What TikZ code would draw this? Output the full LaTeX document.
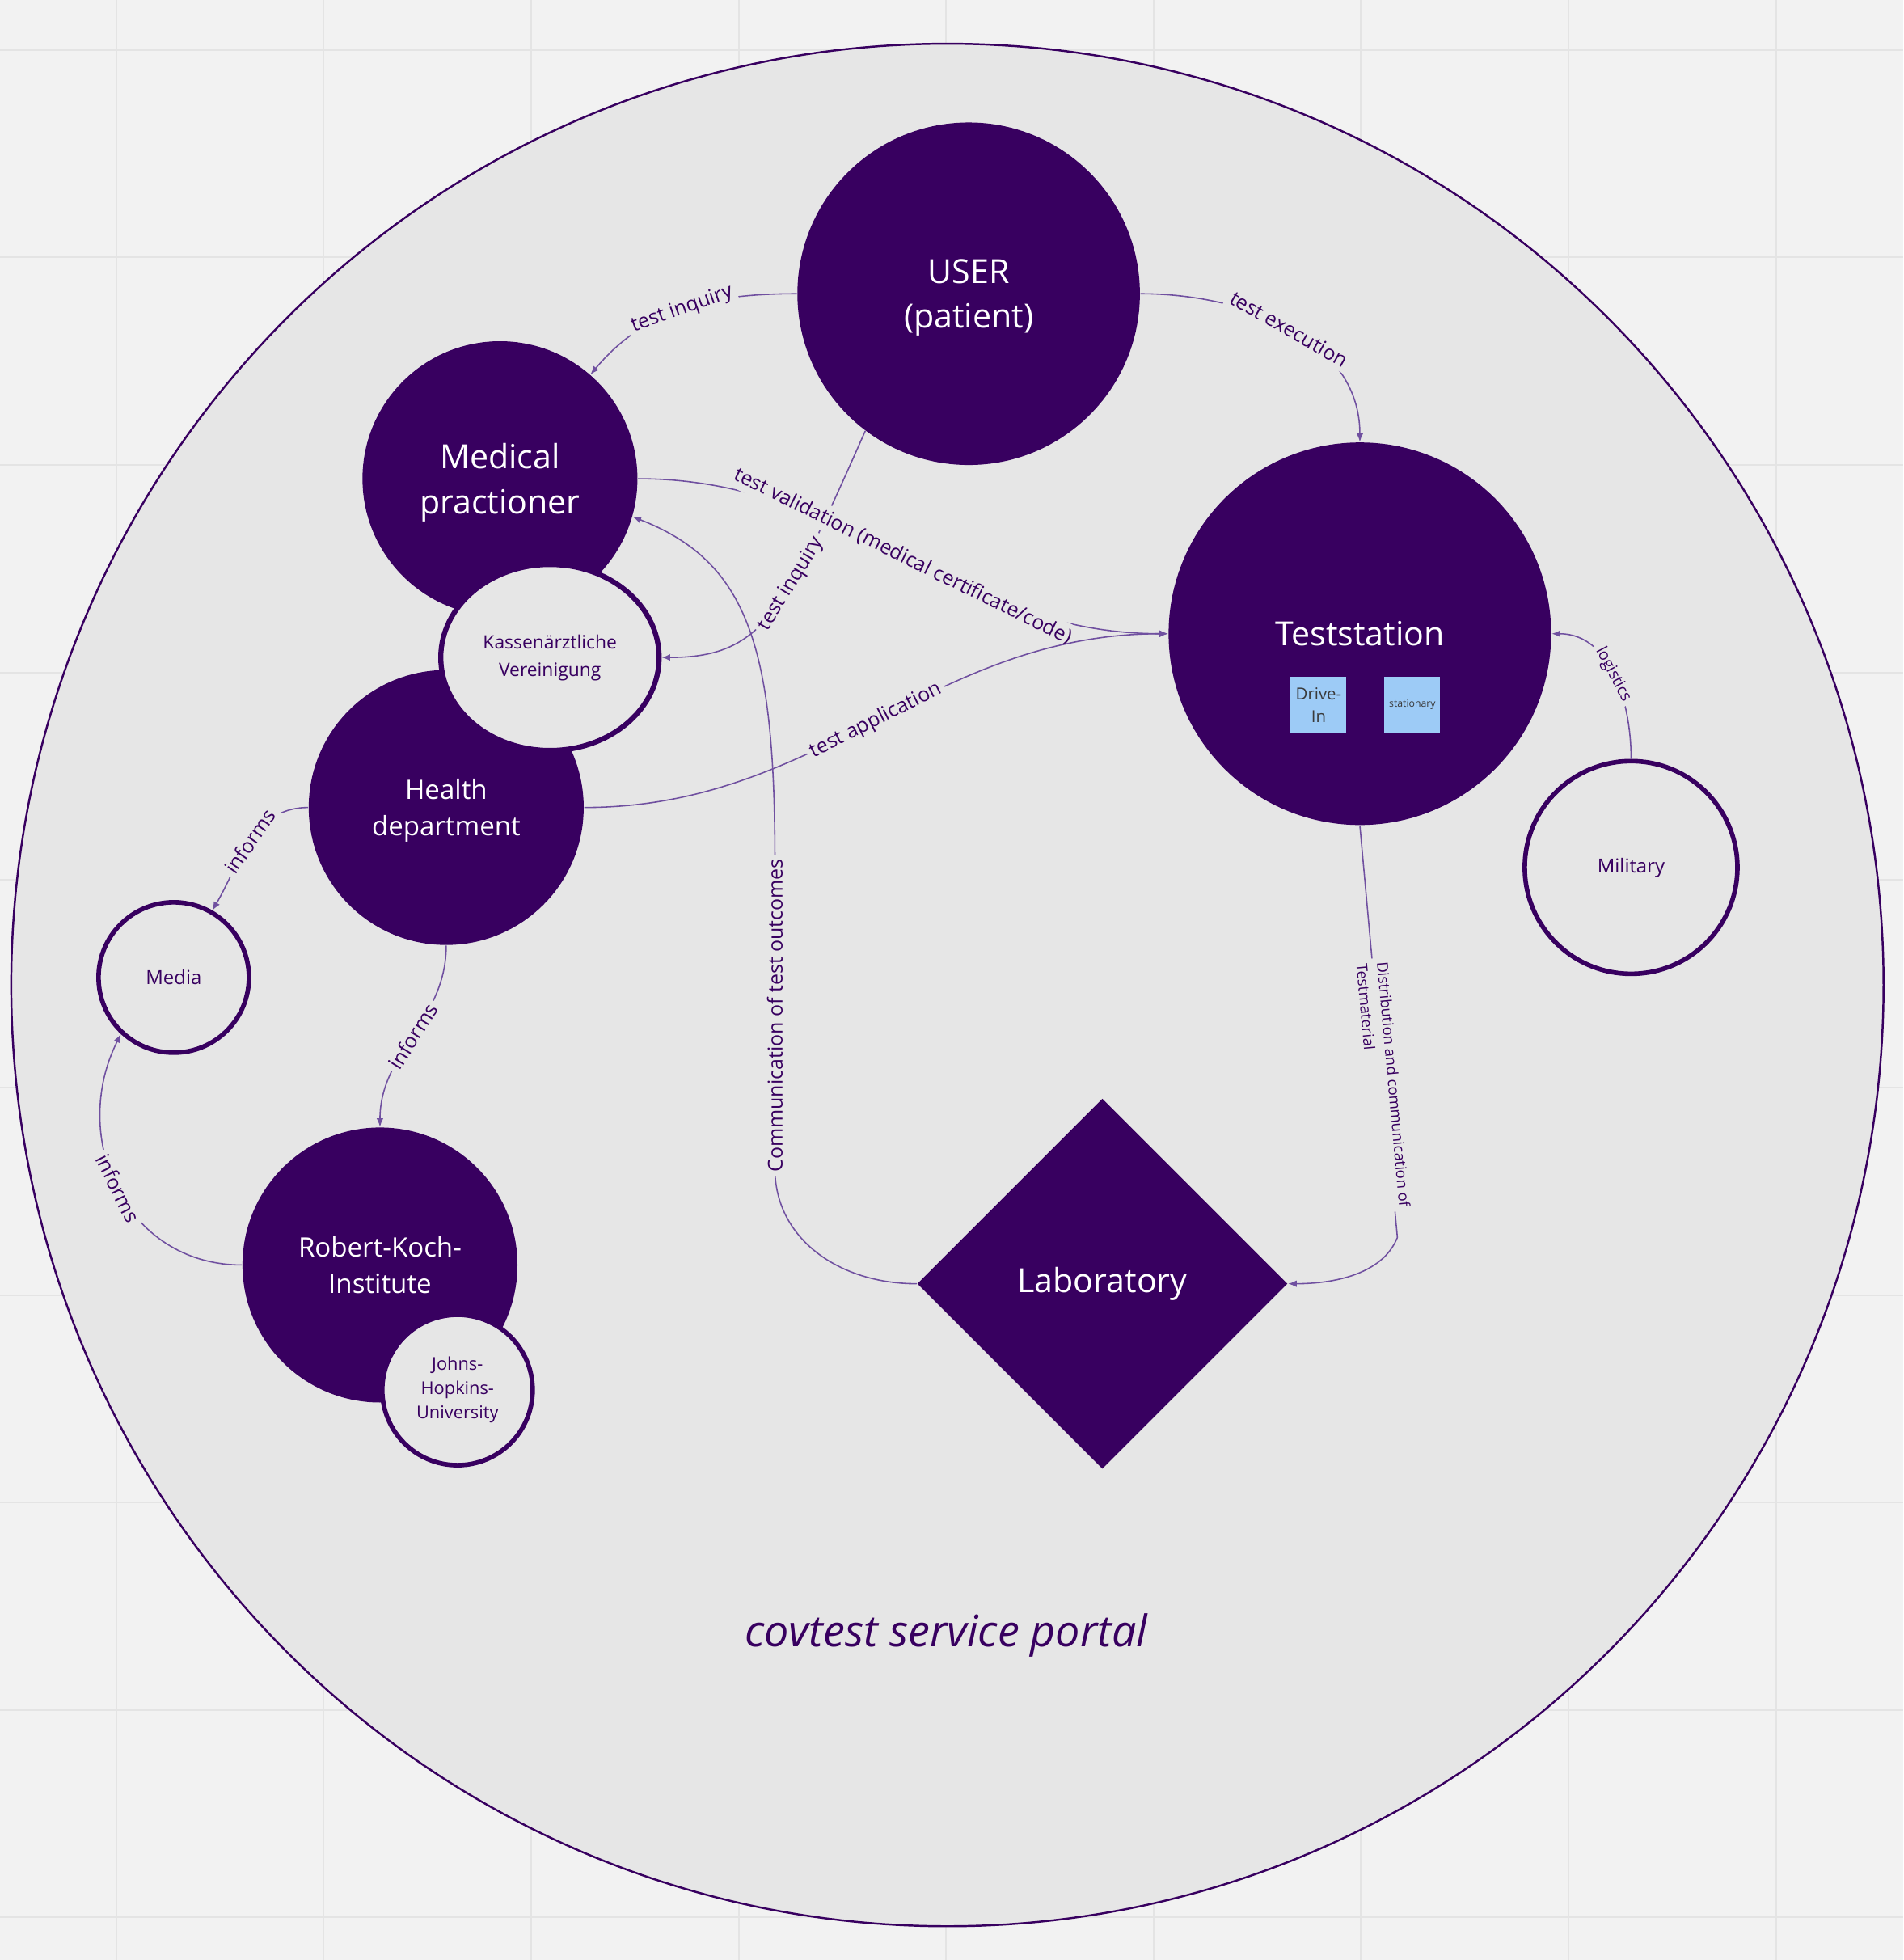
\documentclass[tikz,border=0pt]{standalone}
\usepackage{fontspec}
\setmainfont{Open Sans}
\usetikzlibrary{shapes.geometric,arrows.meta,positioning}
\definecolor{pagebg}{HTML}{F2F2F2}
\definecolor{gridln}{HTML}{E4E4E4}
\definecolor{portal}{HTML}{E6E6E6}
\definecolor{deeppurple}{HTML}{380060}
\definecolor{linepurple}{HTML}{7050A0}
\definecolor{notebg}{HTML}{9DCBF6}
\definecolor{notetext}{HTML}{3A3A3A}

\begin{document}
\begin{tikzpicture}[x=0.15456mm, y=0.15456mm,
        >={Latex[length=3pt,width=2.4pt]},
        bubble/.style={circle, fill=deeppurple, text=white, inner sep=0pt, align=center, text depth=0pt},
        ring/.style={circle, draw=deeppurple, line width=1.6pt, fill=portal, text=deeppurple, inner sep=0pt, align=center},
        note/.style={rectangle, fill=notebg, text=notetext, minimum size=0.69cm, inner sep=0pt, align=center},
        conn/.style={linepurple, line width=0.45pt},
        lbl/.style={fill=portal, text=deeppurple, inner sep=1.5pt, sloped, font=\fontsize{7.1}{8.5}\selectfont}]
        \useasboundingbox (0,0) rectangle (1523,1568);
        \fill[pagebg] (0,0) rectangle (1523,1568);
        \foreach \gx in {93,259,...,1421} \draw[gridln, line width=0.6pt] (\gx,0) -- (\gx,1568);
        \foreach \gy in {34,200,...,1528} \draw[gridln, line width=0.6pt] (0,\gy) -- (1523,\gy);
        \draw[deeppurple, line width=0.7pt, fill=portal] (758,780) ellipse [x radius=749, y radius=753];
        \node[text=deeppurple, font=\fontsize{15.3}{18}\selectfont\itshape] (title) at (757,260) {covtest service portal};

        \node[bubble, minimum size=4.235cm, font=\fontsize{11.7}{15.8}\selectfont] (U) at (775,1333) {USER\\(patient)};
        \node[bubble, minimum size=3.4cm, font=\fontsize{11.7}{15.8}\selectfont] (MP) at (400,1185) {Medical\\practioner};
        \node[bubble, minimum size=3.4cm, font=\fontsize{9.4}{12.7}\selectfont] (HD) at (357,922) {Health\\department};
        \node[ellipse, draw=deeppurple, line width=1.8pt, fill=portal, text=deeppurple, inner sep=0pt, align=center,
              minimum width=2.70cm, minimum height=2.30cm, font=\fontsize{6.5}{9.7}\selectfont] (KV) at (440,1042) {Kassenärztliche\\Vereinigung};
        \node[ring, minimum size=1.86cm, font=\fontsize{6.8}{8}\selectfont] (ME) at (139,786) {Media};
        \node[bubble, minimum size=3.4cm, font=\fontsize{9.4}{12.7}\selectfont] (RKI) at (304,556) {Robert-Koch-\\Institute};
        \node[ring, minimum size=1.86cm, font=\fontsize{6.2}{8.6}\selectfont] (JHU) at (366,456) {Johns-\\Hopkins-\\University};
        \node[bubble, minimum size=4.73cm, font=\fontsize{11.7}{15.8}\selectfont] (TS) at (1088,1061) {Teststation};
        \node[note, font=\fontsize{5.8}{7.9}\selectfont] (DI) at (1055,1004) {Drive-\\In};
        \node[note, font=\fontsize{3.5}{4.2}\selectfont] (ST) at (1130,1004) {stationary};
        \node[ring, minimum size=2.63cm, font=\fontsize{6.8}{8}\selectfont] (MI) at (1305,874) {Military};
        \node[diamond, fill=deeppurple, text=white, inner sep=0pt, minimum width=4.58cm, minimum height=4.58cm,
              font=\fontsize{11.7}{15.8}\selectfont] (LAB) at (882,541) {Laboratory};

        \draw[->, conn] (U.west) to[out=180, in=50] node[lbl] {test inquiry} (MP.49);
        \draw[->, conn] (U.east) to[out=0, in=90] node[lbl] {test execution} (TS.north);
        \draw[->, conn] (U.233) .. controls (628,1078) and (610,1042) .. (KV.east) node[pos=.38, lbl] {test inquiry};
        \draw[->, conn] (MP.east) to[out=0, in=180] node[lbl] {test validation (medical certificate/code)} (TS.west);
        \draw[->, conn] (HD.east) to[out=0, in=180] node[lbl] {test application} (TS.west);
        \draw[->, conn] (LAB.west) .. controls (670,541) and (620,578) .. (620,633) -- (620,878) node[midway, lbl] {Communication of test outcomes}
            .. controls (620,1048) and (600,1118) .. (MP.344);
        \draw[->, conn] (TS.south) -- (1118,578) node[pos=.63, lbl, align=left, font=\fontsize{5.3}{7.3}\selectfont] {Distribution and communication of\\Testmaterial}
            .. controls (1106,548) and (1066,541) .. (LAB.east);
        \draw[->, conn] (MI.north) to[out=90, in=0] node[lbl, font=\fontsize{5.6}{6.7}\selectfont] {logistics} (TS.east);
        \draw[->, conn] (HD.west) to[out=180, in=60] node[lbl] {informs} (ME.60);
        \draw[->, conn] (HD.south) to[out=-90, in=90] node[lbl] {informs} (RKI.north);
        \draw[->, conn] (RKI.west) .. controls (100,556) and (55,658) .. (ME.227) node[midway, lbl] {informs};
\end{tikzpicture}
\end{document}
